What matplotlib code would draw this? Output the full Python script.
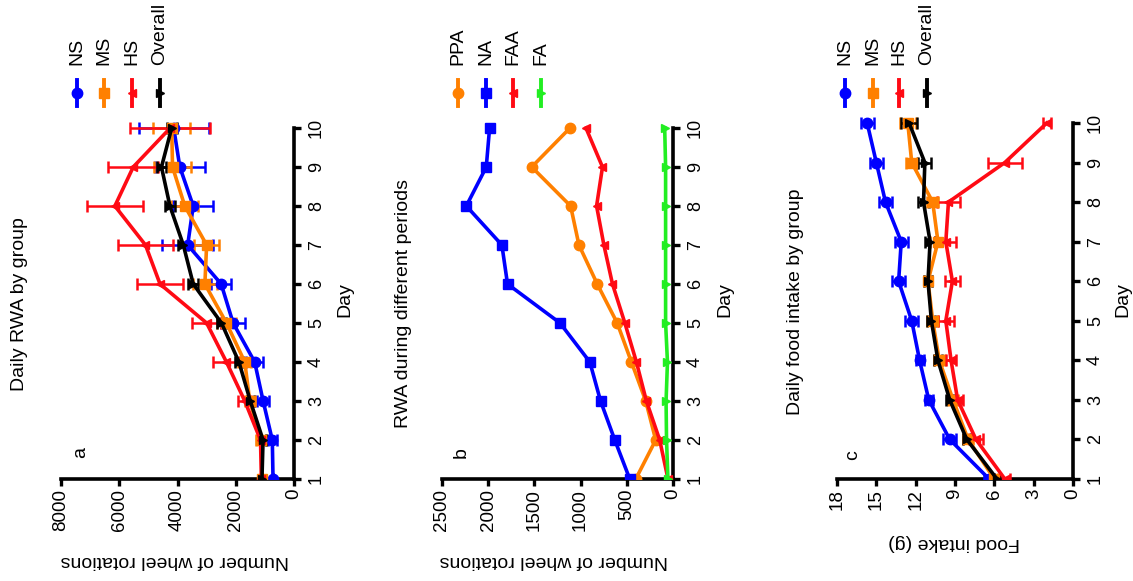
import numpy as np
import matplotlib
matplotlib.use("Agg")
from matplotlib import pyplot as plt
from matplotlib.lines import Line2D

plt.rcParams['font.family'] = ['Liberation Sans', 'DejaVu Sans']

W = 1133
H = 581
my_dpi = 100

days = [1, 2, 3, 4, 5, 6, 7, 8, 9, 10]

# panel a: daily RWA by group
rwa_ns = [720, 745, 1060, 1350, 2090, 2500, 3650, 3460, 3920, 4130]
rwa_ms = [1100, 1120, 1520, 1690, 2320, 3060, 3000, 3750, 4170, 4200]
rwa_hs = [1120, 1150, 1690, 2320, 3000, 4600, 5100, 6150, 5520, 4250]
rwa_all = [1100, 1063, 1500, 1890, 2490, 3460, 3800, 4260, 4550, 4200]
rwa_ns_err = [0, 150, 200, 290, 400, 340, 880, 690, 860, 1200]
rwa_ms_err = [0, 170, 170, 230, 340, 400, 430, 460, 630, 630]
rwa_hs_err = [0, 0, 230, 460, 510, 800, 950, 970, 860, 1370]
rwa_all_err = [0, 100, 120, 150, 170, 170, 170, 170, 170, 170]

# panel b: RWA during different periods
per_ppa = [403, 187, 295, 450, 604, 820, 1018, 1108, 1529, 1115]
per_na = [468, 630, 784, 900, 1223, 1791, 1852, 2237, 2021, 1985]
per_faa = [54, 144, 288, 396, 521, 655, 748, 827, 763, 942]
per_fa = [55, 70, 75, 60, 80, 80, 80, 80, 80, 90]

# panel c: daily food intake by group
food_ns = [6.4, 9.4, 11.0, 11.7, 12.3, 13.3, 13.1, 14.3, 15.0, 15.7]
food_ms = [6.0, 8.0, 9.15, 10.2, 10.7, 11.06, 10.3, 10.7, 12.3, 12.6]
food_hs = [5.2, 7.4, 8.8, 9.3, 9.7, 9.2, 9.7, 9.5, 5.2, 2.0]
food_all = [5.8, 8.1, 9.4, 10.3, 10.8, 11.06, 10.9, 11.4, 11.3, 12.5]
food_ns_err = [0.4, 0.5, 0.3, 0.3, 0.5, 0.5, 0.5, 0.5, 0.5, 0.5]
food_ms_err = [0.3, 0.4, 0.4, 0.4, 0.4, 0.3, 0.6, 0.4, 0.4, 0.6]
food_hs_err = [0.4, 0.5, 0.4, 0.4, 0.6, 0.6, 0.8, 0.9, 1.3, 0.3]
food_all_err = [0.2, 0.3, 0.3, 0.3, 0.3, 0.3, 0.4, 0.4, 0.5, 0.6]

blue = '#0000ff'
orange = '#ff8000'
red = '#ff0a14'
black = '#000000'
green = '#22ee22'

fig = plt.figure(figsize=(W/my_dpi, H/my_dpi), dpi=my_dpi, facecolor='w')


def fx(px):
    return px / W


def fy(py):
    return 1 - py / H


def make_axes(x0, x1, y_day10, y_day1, vmax, vticks):
    # chart is drawn turned a quarter turn: values run right-to-left, days bottom-to-top
    per_day = (y_day1 - y_day10) / 9.0
    top = y_day10 - 0.5 * per_day
    ax = fig.add_axes([fx(x0), fy(y_day1), fx(x1 - x0), (y_day1 - top) / H])
    ax.set_xlim(vmax, 0)
    ax.set_ylim(1, 10.5)
    ax.spines['top'].set_visible(False)
    ax.spines['left'].set_visible(False)
    ax.spines['right'].set_bounds(1, 10)
    for s in ('bottom', 'right'):
        ax.spines[s].set_linewidth(2.6)
    ax.yaxis.tick_right()
    ax.set_yticks(days)
    ax.set_xticks(vticks)
    ax.tick_params(axis='x', length=5, width=2.4, pad=2, labelsize=13.5, labelrotation=90)
    ax.tick_params(axis='y', length=5, width=2.4, pad=5, labelsize=13, labelrotation=90)
    for lab in ax.get_yticklabels():
        lab.set_va('center')
    return ax


def series(ax, vals, err, color, marker, ms=7.5):
    ax.errorbar(vals, days, xerr=err, color=color, marker=marker, markersize=ms,
                linewidth=2.6, elinewidth=1.8, capsize=4, capthick=1.8, zorder=3)


def legend(xs, labels, colors, markers, sizes):
    for x, lab, c, m, s in zip(xs, labels, colors, markers, sizes):
        fig.add_artist(Line2D([fx(x), fx(x)], [fy(80), fy(106)], color=c, linewidth=2.8,
                              transform=fig.transFigure))
        fig.add_artist(Line2D([fx(x)], [fy(93)], color=c, marker=m, markersize=s,
                              transform=fig.transFigure))
        fig.text(fx(x), fy(65), lab, rotation=90, ha='center', va='bottom', fontsize=14)


def side_texts(title, tx, ty, letter, lx, ly, vlabel, vx, vy, dx, dy):
    fig.text(fx(tx), fy(ty), title, rotation=90, ha='center', va='center', fontsize=14)
    fig.text(fx(lx), fy(ly), letter, rotation=90, ha='center', va='center', fontsize=14)
    fig.text(fx(vx), fy(vy), vlabel, rotation=180, ha='center', va='center', fontsize=14)
    fig.text(fx(dx), fy(dy), 'Day', rotation=90, ha='center', va='center', fontsize=14)


# ---- a
ax = make_axes(61, 294, 128, 479, 8000, [0, 2000, 4000, 6000, 8000])
series(ax, rwa_ns, rwa_ns_err, blue, 'o')
series(ax, rwa_ms, rwa_ms_err, orange, 's')
series(ax, rwa_hs, rwa_hs_err, red, '<', 6)
series(ax, rwa_all, rwa_all_err, black, '>', 6)
legend([77, 104, 132, 160], ['NS', 'MS', 'HS', 'Overall'],
       [blue, orange, red, black], ['o', 's', '<', '>'], [7.5, 7.5, 6, 6])
side_texts('Daily RWA by group', 20, 304, 'a', 81, 453,
           'Number of wheel rotations', 175, 561, 345, 300)

# ---- b
ax = make_axes(442, 673, 128, 479, 2500, [0, 500, 1000, 1500, 2000, 2500])
series(ax, per_ppa, None, orange, 'o')
series(ax, per_na, None, blue, 's')
series(ax, per_faa, None, red, '<', 6)
series(ax, per_fa, None, green, '>', 6)
legend([458, 486, 513, 541], ['PPA', 'NA', 'FAA', 'FA'],
       [orange, blue, red, green], ['o', 's', '<', '>'], [7.5, 7.5, 6, 6])
side_texts('RWA during different periods', 403, 304, 'b', 461, 453,
           'Number of wheel rotations', 554, 561, 725, 300)

# ---- c
ax = make_axes(837, 1073, 123, 479, 18, [0, 3, 6, 9, 12, 15, 18])
series(ax, food_ns, food_ns_err, blue, 'o')
series(ax, food_ms, food_ms_err, orange, 's')
series(ax, food_hs, food_hs_err, red, '<', 6)
series(ax, food_all, food_all_err, black, '>', 6)
legend([845, 873, 899, 927], ['NS', 'MS', 'HS', 'Overall'],
       [blue, orange, red, black], ['o', 's', '<', '>'], [7.5, 7.5, 6, 6])
side_texts('Daily food intake by group', 795, 302, 'c', 853, 455,
           'Food intake (g)', 954, 543, 1123, 300)

plt.savefig('out.png', dpi=my_dpi)
